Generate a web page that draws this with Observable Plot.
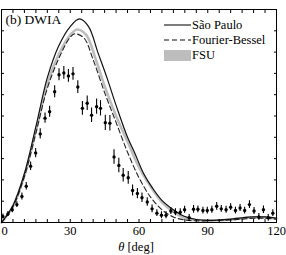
<!DOCTYPE html>
<html><head><meta charset="utf-8">
<script src="https://cdn.jsdelivr.net/npm/d3@7"></script>
<script src="https://cdn.jsdelivr.net/npm/@observablehq/plot@0.6"></script>
<style>body{margin:0;background:#fff} svg{font-family:"Liberation Serif",serif}</style>
</head><body><div id="chart"></div><script>
// Experimental data (angle in deg, cross section arb. units, error)
const theta = [0.6,2.8,4.7,6.7,8.9,10.8,12.7,14.9,16.9,19.0,21.0,23.2,25.1,27.2,29.2,31.2,33.3,35.3,37.4,39.3,41.5,43.2,45.3,47.3,49.1,51.2,53.1,55.3,57.2,59.3,61.3,63.6,65.7,67.8,69.8,71.8,73.9,75.9,78.0,79.9,81.9,83.8,85.7,87.9,89.8,91.8,93.9,95.9,98.0,100.0,102.1,104.1,106.1,108.2,110.2,112.3,114.3,116.4,118.4];
const xsec = [0.14,0.20,0.30,0.42,0.61,0.85,1.32,1.63,2.08,2.45,2.60,3.07,3.47,3.51,3.44,3.49,3.18,2.68,2.80,2.52,2.72,2.68,2.34,2.33,1.54,1.34,1.11,1.05,0.75,0.68,0.58,0.48,0.32,0.22,0.17,0.17,0.27,0.24,0.24,0.30,0.11,0.31,0.31,0.28,0.28,0.30,0.38,0.32,0.30,0.36,0.28,0.34,0.28,0.42,0.27,0.13,0.30,0.11,0.22];
const err = [0.06,0.06,0.07,0.07,0.08,0.09,0.10,0.11,0.12,0.12,0.13,0.14,0.14,0.15,0.15,0.15,0.15,0.16,0.17,0.17,0.18,0.18,0.18,0.18,0.17,0.17,0.16,0.15,0.13,0.12,0.11,0.10,0.09,0.08,0.08,0.08,0.08,0.08,0.08,0.08,0.08,0.09,0.08,0.08,0.08,0.08,0.09,0.08,0.08,0.08,0.08,0.08,0.08,0.09,0.08,0.08,0.09,0.08,0.08];

// Theory curves
const spTheta = [0,5,10,15,20,25,30,34,38,42,46,50,55,58,62,66,70,75,80,85,90,95,100,105,110,115,120];
const spVal   = [0,0.40,1.15,2.25,3.40,4.15,4.60,4.78,4.60,4.00,3.40,2.75,2.00,1.65,1.15,0.80,0.52,0.30,0.14,0.07,0.05,0.06,0.08,0.11,0.13,0.13,0.10];
const fsuTheta = [0,5,10,15,20,25,30,33,37,41,45,50,55,60,65,70,75,80,85,90,95,100,105,110,115,120];
const fsuVal   = [0,0.38,1.10,2.15,3.25,3.95,4.40,4.53,4.40,3.85,3.20,2.50,1.90,1.30,0.85,0.48,0.25,0.11,0.06,0.05,0.05,0.07,0.10,0.12,0.12,0.09];
const fbTheta = [0,5,10,15,20,25,30,32,36,40,45,50,55,60,65,70,75,80,85,90,95,100,105,110,115,120];
const fbVal   = [0,0.37,1.08,2.10,3.15,3.85,4.35,4.43,4.33,3.82,3.05,2.35,1.65,1.05,0.60,0.30,0.13,0.06,0.04,0.04,0.05,0.06,0.08,0.10,0.10,0.08];

const xTickLabels = [30,60,90,120];
const xTickZero = [0];
const legendNames = ["São Paulo","Fourier-Bessel","FSU"];

const pts = theta.map((t,i)=>({t, v: xsec[i], lo: xsec[i]-err[i], hi: xsec[i]+err[i]}));
const sp = spTheta.map((t,i)=>({t, v: spVal[i]}));
const fsu = fsuTheta.map((t,i)=>({t, v: fsuVal[i]}));
const fb = fbTheta.map((t,i)=>({t, v: fbVal[i]}));

const chart = Plot.plot({
  width: 286, height: 255,
  marginLeft: 1, marginRight: 10, marginTop: 9, marginBottom: 33,
  style: {fontFamily: "Liberation Serif, serif", fontSize: "12px", background: "#fff", color: "#000"},
  x: {domain: [0,120]},
  y: {domain: [0,5]},
  marks: [
    Plot.line(fsu, {x:"t", y:"v", stroke:"#bdbdbd", strokeWidth:2.6, curve:"catmull-rom"}),
    Plot.line(fb, {x:"t", y:"v", stroke:"#222", strokeWidth:1.1, strokeDasharray:"5,3", curve:"catmull-rom"}),
    Plot.line(sp, {x:"t", y:"v", stroke:"#111", strokeWidth:1.2, curve:"catmull-rom"}),
    Plot.ruleX(pts, {x:"t", y1:"lo", y2:"hi", stroke:"#000", strokeWidth:1.1}),
    Plot.dot(pts, {x:"t", y:"v", r:1.7, fill:"#000", stroke:"none"}),
    Plot.axisX({anchor:"bottom", ticks: d3.range(0,121,5), tickSize:-3, tickFormat: () => "", label:null}),
    Plot.axisX({anchor:"top", ticks: d3.range(0,121,5), tickSize:-3, tickFormat: () => "", label:null}),
    Plot.axisX({anchor:"bottom", ticks: xTickLabels, tickSize:0, tickPadding:4, label:null, fontSize:12.5}),
    Plot.axisX({anchor:"bottom", ticks: xTickZero, tickSize:0, tickPadding:4, label:null, fontSize:12.5, dx:3}),
    Plot.axisY({anchor:"left", ticks: d3.range(0,5.01,0.5), tickSize:-3, tickFormat: () => "", label:null}),
    Plot.axisY({anchor:"right", ticks: d3.range(0,5.01,0.5), tickSize:-3, tickFormat: () => "", label:null}),
    Plot.frame({stroke:"#000", strokeWidth:1}),
    Plot.text(["(b) DWIA"], {frameAnchor:"top-left", dx:4, dy:5, fontSize:13.5, textAnchor:"start"})
  ]
});
document.getElementById("chart").appendChild(chart);

// legend and axis title
const svg = d3.select(chart);
const lg = svg.append("g").attr("font-family","Liberation Serif, serif").attr("font-size", 12.5).attr("text-anchor","start");
const rows = [
  {name: legendNames[0], y: 25, kind: "solid"},
  {name: legendNames[1], y: 40, kind: "dash"},
  {name: legendNames[2], y: 55, kind: "band"}
];
rows.forEach(r => {
  if (r.kind === "band") {
    lg.append("rect").attr("x",164).attr("y",r.y-5).attr("width",27).attr("height",11).attr("fill","#bdbdbd");
  } else {
    lg.append("line").attr("x1",164).attr("x2",191).attr("y1",r.y).attr("y2",r.y)
      .attr("stroke","#111").attr("stroke-width",1.1)
      .attr("stroke-dasharray", r.kind === "dash" ? "5,3" : null);
  }
  lg.append("text").attr("x",192).attr("y",r.y).attr("dy","0.35em").attr("text-anchor","start").text(r.name);
});
const xl = svg.append("text").attr("x",136).attr("y",251).attr("text-anchor","middle")
  .attr("font-family","Liberation Serif, serif").attr("font-size",12.5);
xl.append("tspan").attr("font-style","italic").text("θ");
xl.append("tspan").text(" [deg]");
</script></body></html>
